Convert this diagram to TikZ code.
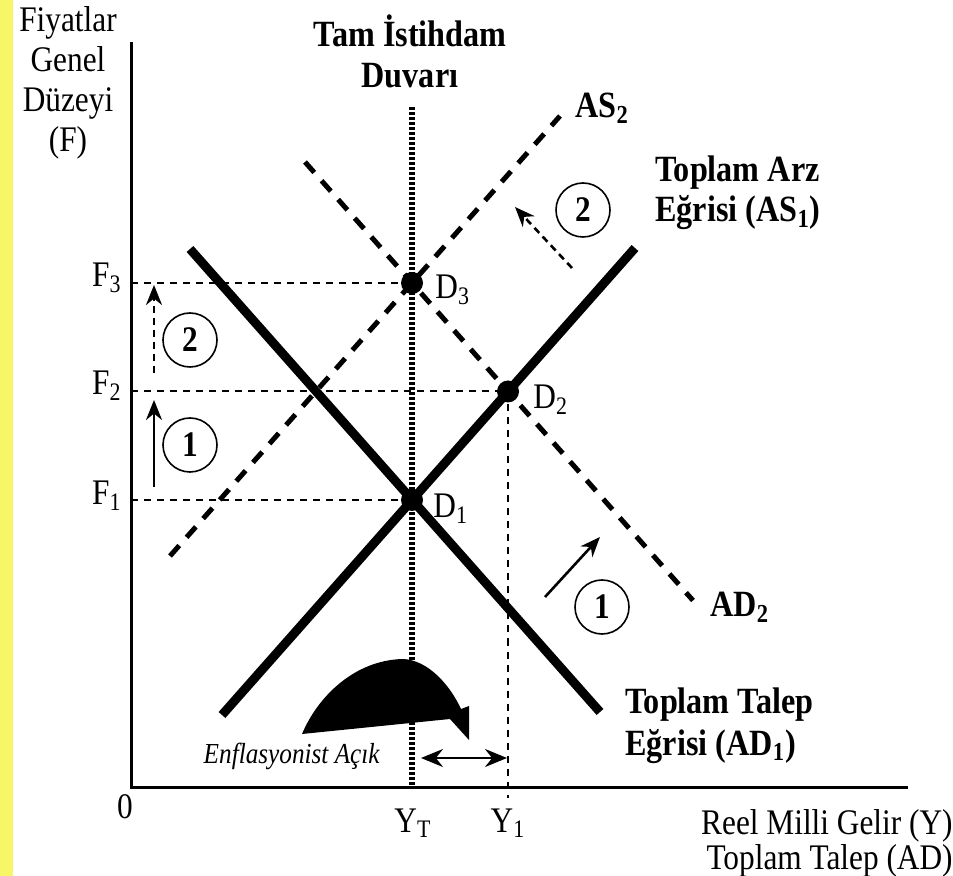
\documentclass[tikz,border=0pt]{standalone}
\usepackage{fontspec}
\setmainfont{Liberation Serif}[FakeStretch=0.87]
\usetikzlibrary{arrows.meta}
\definecolor{stripyellow}{RGB}{246,246,102}

\begin{document}
\begin{tikzpicture}[x=0.5pt, y=-0.5pt,
  lbl/.style={font=\fontsize{18}{20}\selectfont, inner sep=0pt},
  blbl/.style={font=\fontsize{18.5}{20}\selectfont\bfseries, inner sep=0pt},
  curve/.style={line width=4.5pt},
  shifted/.style={line width=2.5pt, dash pattern=on 7pt off 5.5pt},
  guide/.style={line width=1pt, dash pattern=on 3.5pt off 3pt},
  wall/.style={line width=3pt, dash pattern=on 1.6pt off 0.9pt},
  numc/.style={draw, circle, line width=0.8pt, minimum size=27pt, inner sep=0pt,
    font=\fontsize{18}{18}\selectfont\bfseries},
  tip/.style={-{Stealth[length=10pt,width=8pt]}, line width=1.3pt}
]
  \useasboundingbox (0,0) rectangle (953,876);
  \fill[stripyellow] (0,0) rectangle (13,876);

  % axes
  \coordinate (O) at (131,787);
  \coordinate (ytop) at (131,42);
  \coordinate (xend) at (908,787);
  \draw[line width=1.5pt] (ytop) -- (O) -- (xend);

  % equilibrium points
  \coordinate (D1) at (412,500);
  \coordinate (D2) at (508,391.5);
  \coordinate (D3) at (412,283);
  \coordinate (F1) at (131,500);
  \coordinate (F2) at (131,391.5);
  \coordinate (F3) at (131,283);
  \coordinate (YT) at (412,787);
  \coordinate (Y1) at (508,798);

  % full employment wall
  \coordinate (walltop) at (412,107);
  \draw[wall] (walltop) -- (YT);

  % guides
  \draw[guide] (F3) -- (D3);
  \draw[guide] (F2) -- (D2);
  \draw[guide] (F1) -- (D1);
  \draw[guide] (D2) -- (Y1);

  % curves (slope 1.13)
  \coordinate (AD1a) at (190,249);   \coordinate (AD1b) at (600,712);
  \coordinate (AS1a) at (222,715);   \coordinate (AS1b) at (635,248);
  \coordinate (AS2a) at (170,556);   \coordinate (AS2b) at (560,116);
  \coordinate (AD2a) at (305,162);   \coordinate (AD2b) at (693,600.5);
  \draw[shifted] (AS2a) -- (AS2b);
  \draw[shifted] (AD2a) -- (AD2b);
  \draw[curve] (AD1a) -- (AD1b);
  \draw[curve] (AS1a) -- (AS1b);

  \fill (D1) circle (11);
  \fill (D2) circle (11);
  \fill (D3) circle (11);

  % shift arrows
  \node[numc] (n1l) at (190,445) {1};
  \node[numc] (n2l) at (190,340) {2};
  \node[numc] (n2r) at (583,210) {2};
  \node[numc] (n1r) at (602,607) {1};
  \coordinate (p1a) at (154,487);  \coordinate (p1b) at (154,400);
  \coordinate (p2a) at (154,373);  \coordinate (p2b) at (154,285);
  \coordinate (s2a) at (572,268);  \coordinate (s2b) at (515,207);
  \coordinate (d1a) at (545,597);  \coordinate (d1b) at (600,537);
  \draw[tip] (p1a) -- (p1b);
  \draw[tip, dash pattern=on 3.5pt off 2.5pt] (p2a) -- (p2b);
  \draw[tip, dash pattern=on 3.5pt off 2.5pt] (s2a) -- (s2b);
  \draw[tip] (d1a) -- (d1b);

  % inflationary gap
  \fill (302,734) .. controls (318,696) and (355,660) .. (403,659)
    .. controls (428,660) and (450,685) .. (461,709)
    -- (469,706) -- (469,740) -- (450,719) -- cycle;
  \coordinate (gapL) at (421,758);
  \coordinate (gapR) at (507,758);
  \draw[{Stealth[length=11pt,width=9pt]}-{Stealth[length=11pt,width=9pt]}, line width=1pt]
    (gapL) -- (gapR);
  \node[inner sep=0pt, anchor=base east, font=\fontsize{14.5}{14.5}\selectfont\itshape]
    (gap) at (380,763) {Enflasyonist Açık};

  % labels
  \node[lbl, anchor=base] (fy1) at (68,32) {Fiyatlar};
  \node[lbl, anchor=base] (fy2) at (68,72) {Genel};
  \node[lbl, anchor=base] (fy3) at (68,112) {Düzeyi};
  \node[lbl, anchor=base] (fy4) at (68,152) {(F)};
  \node[blbl, anchor=base] (w1) at (410,47) {Tam İstihdam};
  \node[blbl, anchor=base] (w2) at (410,88) {Duvarı};
  \node[blbl, anchor=base west] (as2) at (575,118) {AS\textsubscript{2}};
  \node[blbl, anchor=base west] (as1a) at (655,182) {Toplam Arz};
  \node[blbl, anchor=base west] (as1b) at (655,222) {Eğrisi (AS\textsubscript{1})};
  \node[blbl, anchor=base west] (ad1a) at (625,713) {Toplam Talep};
  \node[blbl, anchor=base west] (ad1b) at (625,755) {Eğrisi (AD\textsubscript{1})};
  \node[blbl, anchor=base west] (ad2) at (710,617) {AD\textsubscript{2}};

  \node[lbl, anchor=base east] at (122,287) {F\textsubscript{3}};
  \node[lbl, anchor=base east] at (122,395) {F\textsubscript{2}};
  \node[lbl, anchor=base east] at (122,505) {F\textsubscript{1}};
  \node[lbl, anchor=base west] at (435,299) {D\textsubscript{3}};
  \node[lbl, anchor=base west] at (533,409) {D\textsubscript{2}};
  \node[lbl, anchor=base west] at (433,518) {D\textsubscript{1}};

  \node[lbl, anchor=base] at (125,818) {0};
  \node[lbl, anchor=base] at (413,832) {Y\textsubscript{T}};
  \node[lbl, anchor=base] at (508,832) {Y\textsubscript{1}};
  \node[lbl, anchor=base east] at (953,834) {Reel Milli Gelir (Y)};
  \node[lbl, anchor=base east] at (953,869) {Toplam Talep (AD)};
\end{tikzpicture}
\end{document}
